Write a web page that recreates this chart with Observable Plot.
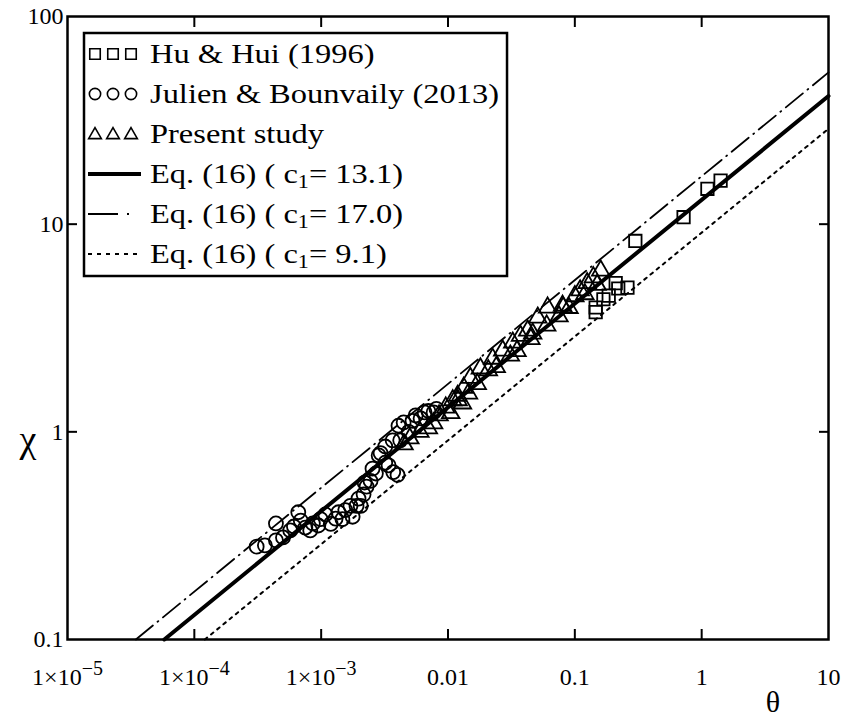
<!DOCTYPE html>
<html><head><meta charset="utf-8">
<script src="https://cdn.jsdelivr.net/npm/d3@7"></script>
<script src="https://cdn.jsdelivr.net/npm/@observablehq/plot@0.6"></script>
<style>
html,body{margin:0;padding:0;background:#fff;}
#chart{position:absolute;left:0;top:0;}
</style></head><body><div id="chart"></div>
<script>
// ---------- data ----------
const xTicks = [1e-5, 1e-4, 1e-3, 0.01, 0.1, 1, 10];
const xTickLabels = ["1×10^−5", "1×10^−4", "1×10^−3", "0.01", "0.1", "1", "10"];
const yTicks = [0.1, 1, 10, 100];
const yTickLabels = ["0.1", "1", "10", "100"];

// Hu & Hui (1996)
const huTheta = [0.146, 0.146, 0.168, 0.185, 0.21, 0.22, 0.26, 0.30, 0.72, 1.11, 1.41];
const huChi   = [3.77, 3.97, 4.35, 4.53, 5.2, 4.9, 4.95, 8.3, 10.8, 14.8, 16.2];

// Julien & Bounvaily (2013)
const jbTheta = [3.1e-4, 3.6e-4, 4.4e-4, 4.4e-4, 5.0e-4, 5.7e-4, 6.1e-4, 6.6e-4, 6.9e-4, 7.5e-4,
                 8.2e-4, 8.6e-4, 9.5e-4, 9.9e-4, 1.08e-3, 1.19e-3, 1.3e-3, 1.37e-3, 1.47e-3, 1.55e-3,
                 1.7e-3, 1.77e-3, 1.9e-3, 1.97e-3, 2.05e-3, 2.16e-3, 2.28e-3, 2.45e-3, 2.54e-3, 2.84e-3,
                 2.94e-3, 3.2e-3, 3.7e-3, 4.0e-3, 3.66e-3, 4.07e-3, 4.47e-3, 4.2e-3, 4.9e-3, 5.25e-3,
                 5.56e-3, 6.08e-3, 6.54e-3, 7.0e-3, 7.7e-3, 8.1e-3, 3.2e-3, 3.4e-3, 2.7e-3, 2.2e-3];
const jbChi   = [0.28, 0.284, 0.30, 0.362, 0.31, 0.335, 0.35, 0.41, 0.374, 0.346,
                 0.335, 0.362, 0.354, 0.38, 0.40, 0.36, 0.382, 0.41, 0.38, 0.42,
                 0.44, 0.39, 0.44, 0.477, 0.44, 0.50, 0.545, 0.58, 0.665, 0.77,
                 0.79, 0.85, 0.64, 0.62, 0.91, 1.07, 1.11, 0.91, 1.0, 1.13,
                 1.2, 1.16, 1.24, 1.26, 1.24, 1.29, 0.71, 0.69, 0.63, 0.57];

// Present study
const psTheta = [0.0045, 0.005, 0.006, 0.007, 0.0077, 0.0085, 0.0096, 0.0105, 0.0109, 0.012,
                 0.013, 0.0119, 0.0145, 0.0133, 0.015, 0.017, 0.018, 0.0208, 0.0225, 0.024,
                 0.027, 0.031, 0.0324, 0.035, 0.0373, 0.0425, 0.0465, 0.045, 0.051, 0.061,
                 0.06, 0.075, 0.080, 0.081, 0.09, 0.1, 0.11, 0.12, 0.125, 0.14, 0.15, 0.16];
const psChi   = [0.87, 0.93, 1.0, 1.04, 1.10, 1.2, 1.31, 1.23, 1.42, 1.42,
                 1.37, 1.49, 1.53, 1.63, 1.82, 1.7, 2.02, 1.98, 2.25, 2.05,
                 2.46, 2.33, 2.69, 2.45, 2.9, 3.07, 2.97, 2.8, 3.55, 3.97,
                 3.25, 3.6, 4.05, 3.97, 3.95, 4.5, 4.8, 4.6, 5.2, 5.55, 5.1, 5.98];

// Eq. (16) lines, endpoints
const eq131Theta = [5.8e-5, 10];  const eq131Chi = [0.1, 41.4];
const eq170Theta = [3.46e-5, 10]; const eq170Chi = [0.1, 53.8];
const eq91Theta  = [1.21e-4, 10]; const eq91Chi  = [0.1, 28.8];

// legend texts
const seriesLabels = ["Hu & Hui (1996)", "Julien & Bounvaily (2013)", "Present study"];
const eqC1 = ["13.1", "17.0", "9.1"];

// ---------- build ----------
const zip = (a, b) => a.map((v, i) => ({x: v, y: b[i]}));
const xLab = new Map(xTicks.map((t, i) => [t, xTickLabels[i]]));
const yLab = new Map(yTicks.map((t, i) => [t, yTickLabels[i]]));
const FONT = "'Liberation Serif', 'Times New Roman', serif";

const chart = Plot.plot({
  width: 851, height: 719,
  marginLeft: 67, marginRight: 23, marginTop: 16, marginBottom: 80,
  style: {fontFamily: FONT, fontSize: "24px", background: "#fff", color: "#000", overflow: "visible"},
  x: {type: "log", domain: [1e-5, 10]},
  y: {type: "log", domain: [0.1, 100]},
  marks: [
    Plot.line(zip(eq170Theta, eq170Chi), {x: "x", y: "y", stroke: "#000", strokeWidth: 1.8, strokeDasharray: "22,6,1,6"}),
    Plot.line(zip(eq91Theta, eq91Chi), {x: "x", y: "y", stroke: "#000", strokeWidth: 2, strokeDasharray: "3,5"}),
    Plot.line(zip(eq131Theta, eq131Chi), {x: "x", y: "y", stroke: "#000", strokeWidth: 4}),
    Plot.dot(zip(jbTheta, jbChi), {x: "x", y: "y", symbol: "circle", r: 7, stroke: "#000", strokeWidth: 1.8, fill: "none"}),
    Plot.dot(zip(psTheta, psChi), {x: "x", y: "y", symbol: "triangle", r: 6.5, stroke: "#000", strokeWidth: 1.8, fill: "none"}),
    Plot.dot(zip(huTheta, huChi), {x: "x", y: "y", symbol: "square", r: 7, stroke: "#000", strokeWidth: 1.8, fill: "none"}),
    Plot.axisX(xTicks.slice(1, -1), {anchor: "bottom", tickSize: -10, tickFormat: () => "", strokeWidth: 2, label: null}),
    Plot.axisX(xTicks.slice(1, -1), {anchor: "top", tickSize: -10, tickFormat: () => "", strokeWidth: 2, label: null}),
    Plot.axisY(yTicks.slice(1, -1), {anchor: "left", tickSize: -10, tickFormat: () => "", strokeWidth: 2, label: null}),
    Plot.axisY(yTicks.slice(1, -1), {anchor: "right", tickSize: -10, tickFormat: () => "", strokeWidth: 2, label: null}),
    Plot.axisX(xTicks, {anchor: "bottom", tickSize: 0, tickPadding: 28, tickFormat: d => xLab.get(d), label: null, fontSize: 24}),
    Plot.axisY(yTicks, {anchor: "left", tickSize: 0, tickPadding: 4, tickFormat: d => yLab.get(d), label: null, fontSize: 24}),
    Plot.frame({stroke: "#000", strokeWidth: 2.5})
  ]
});
document.getElementById("chart").appendChild(chart);

const svg = d3.select(chart);
// superscripts in x tick labels
svg.selectAll("text").each(function() {
  const t = this.textContent;
  if (t.includes("^")) {
    const [base, exp] = t.split("^");
    const el = d3.select(this);
    el.text(base);
    el.append("tspan").attr("dy", "-0.5em").attr("font-size", "20px").text(exp);
  }
});

// axis titles
svg.append("text").attr("x", 28).attr("y", 452).attr("text-anchor", "middle")
  .attr("font-family", FONT).attr("font-size", 38).text("χ");
svg.append("text").attr("x", 773).attr("y", 712).attr("text-anchor", "middle")
  .attr("font-family", FONT).attr("font-size", 30).text("θ");

// legend
const lg = svg.append("g").attr("font-family", FONT).attr("text-anchor", "start");
const rows = [63, 103, 143, 183, 223, 263];
const SX = 1.16;
const box = lg.append("rect").attr("x", 84).attr("y", 33).attr("height", 243)
  .attr("fill", "#fff").attr("stroke", "#000").attr("stroke-width", 2.5);
const syms = [d3.symbolSquare, d3.symbolCircle, d3.symbolTriangle];
const symSize = [110, 100, 70];
[0, 1, 2].forEach(i => {
  [95, 113, 131].forEach(cx => {
    lg.append("path").attr("d", d3.symbol(syms[i], symSize[i])())
      .attr("transform", `translate(${cx},${rows[i] - 9 + (i === 2 ? 1 : 0)})`)
      .attr("fill", "none").attr("stroke", "#000").attr("stroke-width", 1.6);
  });
});
const dashes = [null, "30,9,2,20", "4,5"];
const widths = [4, 2, 2];
[0, 1, 2].forEach(j => {
  const l = lg.append("line").attr("x1", 88).attr("x2", 141)
    .attr("y1", rows[3 + j] - 9).attr("y2", rows[3 + j] - 9)
    .attr("stroke", "#000").attr("stroke-width", widths[j]);
  if (dashes[j]) l.attr("stroke-dasharray", dashes[j]);
});
let maxW = 0;
const texts = [];
rows.forEach((by, i) => {
  const g = lg.append("g").attr("transform", `translate(150,${by}) scale(${SX},1)`);
  const t = g.append("text").attr("font-size", 28).attr("text-anchor", "start");
  if (i < 3) t.text(seriesLabels[i]);
  else {
    t.append("tspan").text("Eq. (16) ( c");
    t.append("tspan").attr("font-size", 19).attr("dy", 5).text("1");
    t.append("tspan").attr("dy", -5).text("= " + eqC1[i - 3] + ")");
  }
  texts.push(t);
});
texts.forEach(t => { maxW = Math.max(maxW, t.node().getComputedTextLength() * SX); });
box.attr("width", 150 + maxW + 8 - 84);
</script>
</body></html>
